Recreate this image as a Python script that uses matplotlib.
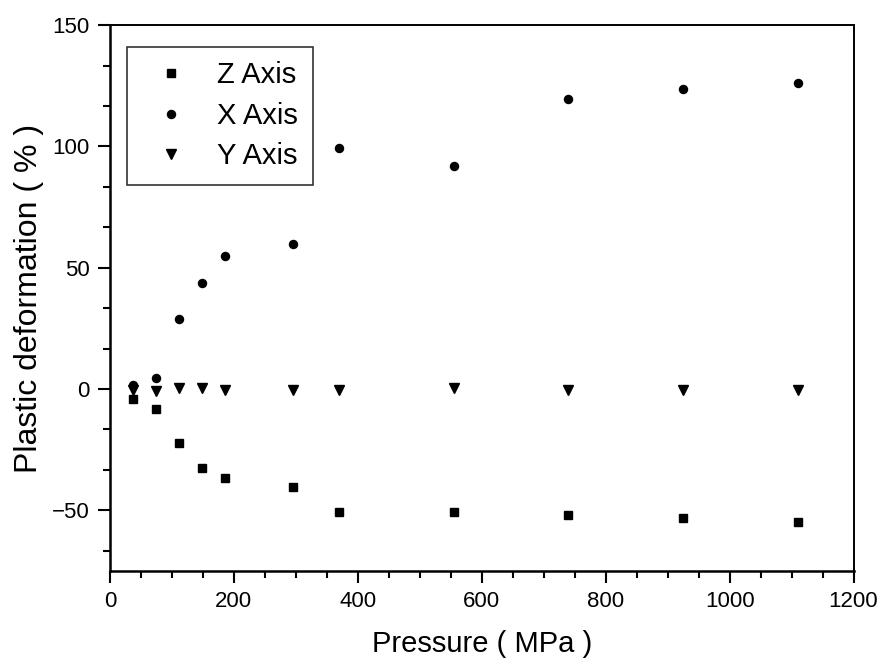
import matplotlib
matplotlib.use("Agg")
import matplotlib.pyplot as plt
from matplotlib.ticker import MultipleLocator, AutoMinorLocator

# pressure steps (MPa)
pressure = [37, 74, 111, 148, 185, 296, 370, 555, 740, 925, 1110]

# plastic deformation (%) per axis
z_axis = [-4.2, -8.4, -22.2, -32.4, -36.8, -40.3, -50.8, -50.8, -52.0, -53.0, -54.9]
x_axis = [1.5, 4.4, 28.8, 43.8, 55.0, 59.6, 99.4, 91.9, 119.5, 123.6, 126.0]
y_axis = [-0.4, -0.7, 0.3, 0.3, -0.3, -0.4, -0.4, 0.6, -0.4, -0.4, -0.5]

plt.rcParams['font.family'] = ['Liberation Sans', 'DejaVu Sans']

fig = plt.figure(figsize=(8.79, 6.6), dpi=100)
ax = fig.add_axes([0.125, 0.135, 0.846, 0.827])

ax.plot(pressure, z_axis, linestyle='none', marker='s', markersize=5.2,
        color='black', label='Z Axis')
ax.plot(pressure, x_axis, linestyle='none', marker='o', markersize=5.8,
        color='black', label='X Axis')
ax.plot(pressure, y_axis, linestyle='none', marker='v', markersize=6.5,
        color='black', label='Y Axis')

ax.set_xlim(0, 1200)
ax.set_ylim(-75, 150)
ax.xaxis.set_major_locator(MultipleLocator(200))
ax.xaxis.set_minor_locator(AutoMinorLocator(4))
ax.yaxis.set_major_locator(MultipleLocator(50))
ax.yaxis.set_minor_locator(AutoMinorLocator(3))

ax.tick_params(which='both', direction='out', width=1.5, top=False, right=False)
ax.tick_params(which='major', length=8.5, labelsize=16, pad=6)
ax.tick_params(which='minor', length=5)
for side in ['left', 'bottom']:
    ax.spines[side].set_linewidth(1.8)
for side in ['top', 'right']:
    ax.spines[side].set_linewidth(1.4)

ax.set_xlabel('Pressure ( MPa )', fontsize=21, labelpad=13)
ax.set_ylabel('Plastic deformation ( % )', fontsize=23, labelpad=6)

leg = ax.legend(loc='upper left', bbox_to_anchor=(0.0228, 0.96), borderaxespad=0,
                fontsize=21, frameon=True, fancybox=False, edgecolor='black',
                borderpad=0.5, handlelength=2.0, handletextpad=0.6,
                labelspacing=0.42, markerscale=1.0)
leg.get_frame().set_linewidth(1.2)

fig.savefig('out.png', dpi=100)
